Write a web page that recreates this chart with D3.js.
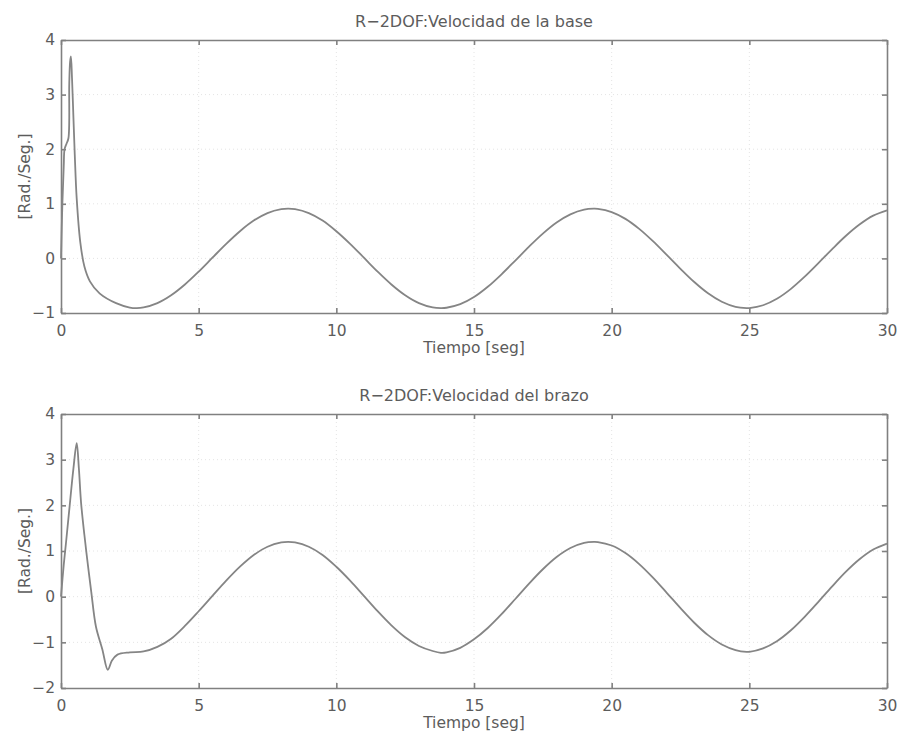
<!DOCTYPE html>
<html>
<head>
<meta charset="utf-8">
<script src="https://cdn.jsdelivr.net/npm/d3@7"></script>
<style>
  html, body { margin: 0; padding: 0; background: #fff; }
  svg { display: block; font-family: "DejaVu Sans", sans-serif; }
</style>
</head>
<body>
<svg id="chart" width="898" height="740"></svg>
<script>
// Base joint angular velocity, time (s) and value (rad/s)
const baseTime = [0, 0.05, 0.1, 0.13, 0.2, 0.27, 0.3, 0.33, 0.36, 0.4, 0.45, 0.5, 0.57, 0.7, 0.85, 1.05, 1.4, 2.0, 2.5,
  2.75, 3.0, 3.5, 4.0, 4.5, 5.0, 5.5, 6.0, 6.5, 7.0, 7.5, 8.0, 8.25, 8.5, 9.0, 9.5, 10.0, 10.5, 11.0, 11.5, 12.0, 12.5,
  13.0, 13.5, 13.8, 14.0, 14.5, 15.0, 15.5, 16.0, 16.5, 17.0, 17.5, 18.0, 18.5, 19.0, 19.35, 19.5, 20.0, 20.5, 21.0,
  21.5, 22.0, 22.5, 23.0, 23.5, 24.0, 24.5, 24.9, 25.0, 25.5, 26.0, 26.5, 27.0, 27.5, 28.0, 28.5, 29.0, 29.5, 30.0];
const baseVel = [0, 1.0, 1.7, 2.0, 2.1, 2.2, 3.2, 3.6, 3.7, 3.3, 2.6, 1.9, 1.1, 0.3, -0.15, -0.42, -0.64, -0.82, -0.9,
  -0.91, -0.897, -0.818, -0.674, -0.477, -0.242, 0.013, 0.266, 0.498, 0.692, 0.830, 0.901, 0.91, 0.901, 0.830, 0.693,
  0.497, 0.266, 0.013, -0.242, -0.477, -0.674, -0.818, -0.897, -0.91, -0.904, -0.839, -0.708, -0.520, -0.291, -0.039,
  0.217, 0.455, 0.658, 0.807, 0.893, 0.91, 0.907, 0.849, 0.724, 0.541, 0.315, 0.064, -0.191, -0.433, -0.639, -0.794,
  -0.887, -0.91, -0.909, -0.858, -0.739, -0.562, -0.339, -0.090, 0.166, 0.410, 0.620, 0.783, 0.881];

// Arm joint angular velocity
const armTime = [0, 0.1, 0.18, 0.3, 0.45, 0.57, 0.65, 0.73, 0.85, 0.97, 1.1, 1.27, 1.5, 1.7, 1.85, 2.05, 2.5, 3.0, 3.5,
  4.0, 4.5, 5.0, 5.5, 6.0, 6.5, 7.0, 7.5, 8.0, 8.25, 8.5, 9.0, 9.5, 10.0, 10.5, 11.0, 11.5, 12.0, 12.5, 13.0, 13.5,
  13.8, 14.0, 14.5, 15.0, 15.5, 16.0, 16.5, 17.0, 17.5, 18.0, 18.5, 19.0, 19.35, 19.5, 20.0, 20.5, 21.0, 21.5, 22.0,
  22.5, 23.0, 23.5, 24.0, 24.5, 24.9, 25.0, 25.5, 26.0, 26.5, 27.0, 27.5, 28.0, 28.5, 29.0, 29.5, 30.0];
const armVel = [0, 0.7, 1.17, 1.9, 2.8, 3.36, 2.8, 2.05, 1.35, 0.73, 0.1, -0.66, -1.15, -1.6, -1.4, -1.27, -1.22, -1.2,
  -1.1, -0.92, -0.64, -0.319, 0.017, 0.351, 0.657, 0.913, 1.094, 1.188, 1.2, 1.188, 1.094, 0.914, 0.655, 0.351, 0.017,
  -0.319, -0.629, -0.889, -1.079, -1.19, -1.23, -1.22, -1.12, -0.934, -0.686, -0.384, -0.051, 0.286, 0.600, 0.868,
  1.065, 1.177, 1.2, 1.196, 1.120, 0.954, 0.713, 0.416, 0.085, -0.252, -0.571, -0.843, -1.047, -1.17, -1.21, -1.208,
  -1.131, -0.975, -0.741, -0.447, -0.119, 0.219, 0.541, 0.818, 1.032, 1.162];

const xTicks = [0, 5, 10, 15, 20, 25, 30];
const baseYTicks = [-1, 0, 1, 2, 3, 4];
const armYTicks = [-2, -1, 0, 1, 2, 3, 4];

const titles = ["R\u22122DOF:Velocidad de la base", "R\u22122DOF:Velocidad del brazo"];
const xLabel = "Tiempo [seg]";
const yLabel = "[Rad./Seg.]";

const svg = d3.select("#chart");
const axisColor = "#808080";
const textColor = "#5c5c5c";
const lineColor = "#858585";
const fontFamily = "'DejaVu Sans', sans-serif";

function panel(opts) {
  const { top, bottom, left, right, time, vel, yTicks, title } = opts;
  const x = d3.scaleLinear().domain([0, 30]).range([left, right]);
  const y = d3.scaleLinear().domain([yTicks[0], yTicks[yTicks.length - 1]]).range([bottom, top]);
  const g = svg.append("g");

  // faint dotted grid
  g.selectAll(null).data(xTicks.slice(1, -1)).join("line")
    .attr("x1", d => x(d)).attr("x2", d => x(d)).attr("y1", top).attr("y2", bottom)
    .attr("stroke", "#e4e4e4").attr("stroke-width", 1).attr("stroke-dasharray", "1,3");
  g.selectAll(null).data(yTicks.slice(1, -1)).join("line")
    .attr("y1", d => y(d)).attr("y2", d => y(d)).attr("x1", left).attr("x2", right)
    .attr("stroke", "#e4e4e4").attr("stroke-width", 1).attr("stroke-dasharray", "1,3");

  // box axes, ticks pointing inward on all four sides
  const tl = 5;
  const fmt = d => d < 0 ? "\u2212" + Math.abs(d) : String(d);
  const bAxis = d3.axisBottom(x).tickValues(xTicks).tickSizeInner(-tl).tickSizeOuter(0).tickPadding(12).tickFormat(fmt);
  const tAxis = d3.axisTop(x).tickValues(xTicks).tickSizeInner(-tl).tickSizeOuter(0).tickFormat("");
  const lAxis = d3.axisLeft(y).tickValues(yTicks).tickSizeInner(-tl).tickSizeOuter(0).tickPadding(6).tickFormat(fmt);
  const rAxis = d3.axisRight(y).tickValues(yTicks).tickSizeInner(-tl).tickSizeOuter(0).tickFormat("");

  const style = sel => {
    sel.selectAll("path, line").attr("stroke", axisColor).attr("stroke-width", 1.6);
    sel.selectAll("text").attr("fill", textColor).attr("font-size", 15.5).attr("font-family", fontFamily);
  };
  g.append("g").attr("transform", `translate(0,${bottom})`).call(bAxis).call(style);
  g.append("g").attr("transform", `translate(0,${top})`).call(tAxis).call(style);
  g.append("g").attr("transform", `translate(${left},0)`).call(lAxis).call(style);
  g.append("g").attr("transform", `translate(${right},0)`).call(rAxis).call(style);

  // series
  const pts = time.map((t, i) => [t, vel[i]]);
  g.append("path").datum(pts)
    .attr("fill", "none").attr("stroke", lineColor).attr("stroke-width", 1.8)
    .attr("stroke-linejoin", "round")
    .attr("d", d3.line().x(d => x(d[0])).y(d => y(d[1])).curve(d3.curveCatmullRom.alpha(0.5)));

  // labels
  g.append("text").attr("x", (left + right) / 2).attr("y", top - 13)
    .attr("text-anchor", "middle").attr("fill", textColor).attr("font-size", 16)
    .attr("font-family", fontFamily).text(title);
  g.append("text").attr("x", (left + right) / 2).attr("y", bottom + 40)
    .attr("text-anchor", "middle").attr("fill", textColor).attr("font-size", 15.5)
    .attr("font-family", fontFamily).text(xLabel);
  g.append("text")
    .attr("transform", `translate(30,${(top + bottom) / 2}) rotate(-90)`)
    .attr("text-anchor", "middle").attr("fill", textColor).attr("font-size", 15.5)
    .attr("font-family", fontFamily).text(yLabel);
}

panel({ top: 40, bottom: 313, left: 61, right: 887, time: baseTime, vel: baseVel, yTicks: baseYTicks, title: titles[0] });
panel({ top: 414, bottom: 688, left: 61, right: 887, time: armTime, vel: armVel, yTicks: armYTicks, title: titles[1] });
</script>
</body>
</html>
